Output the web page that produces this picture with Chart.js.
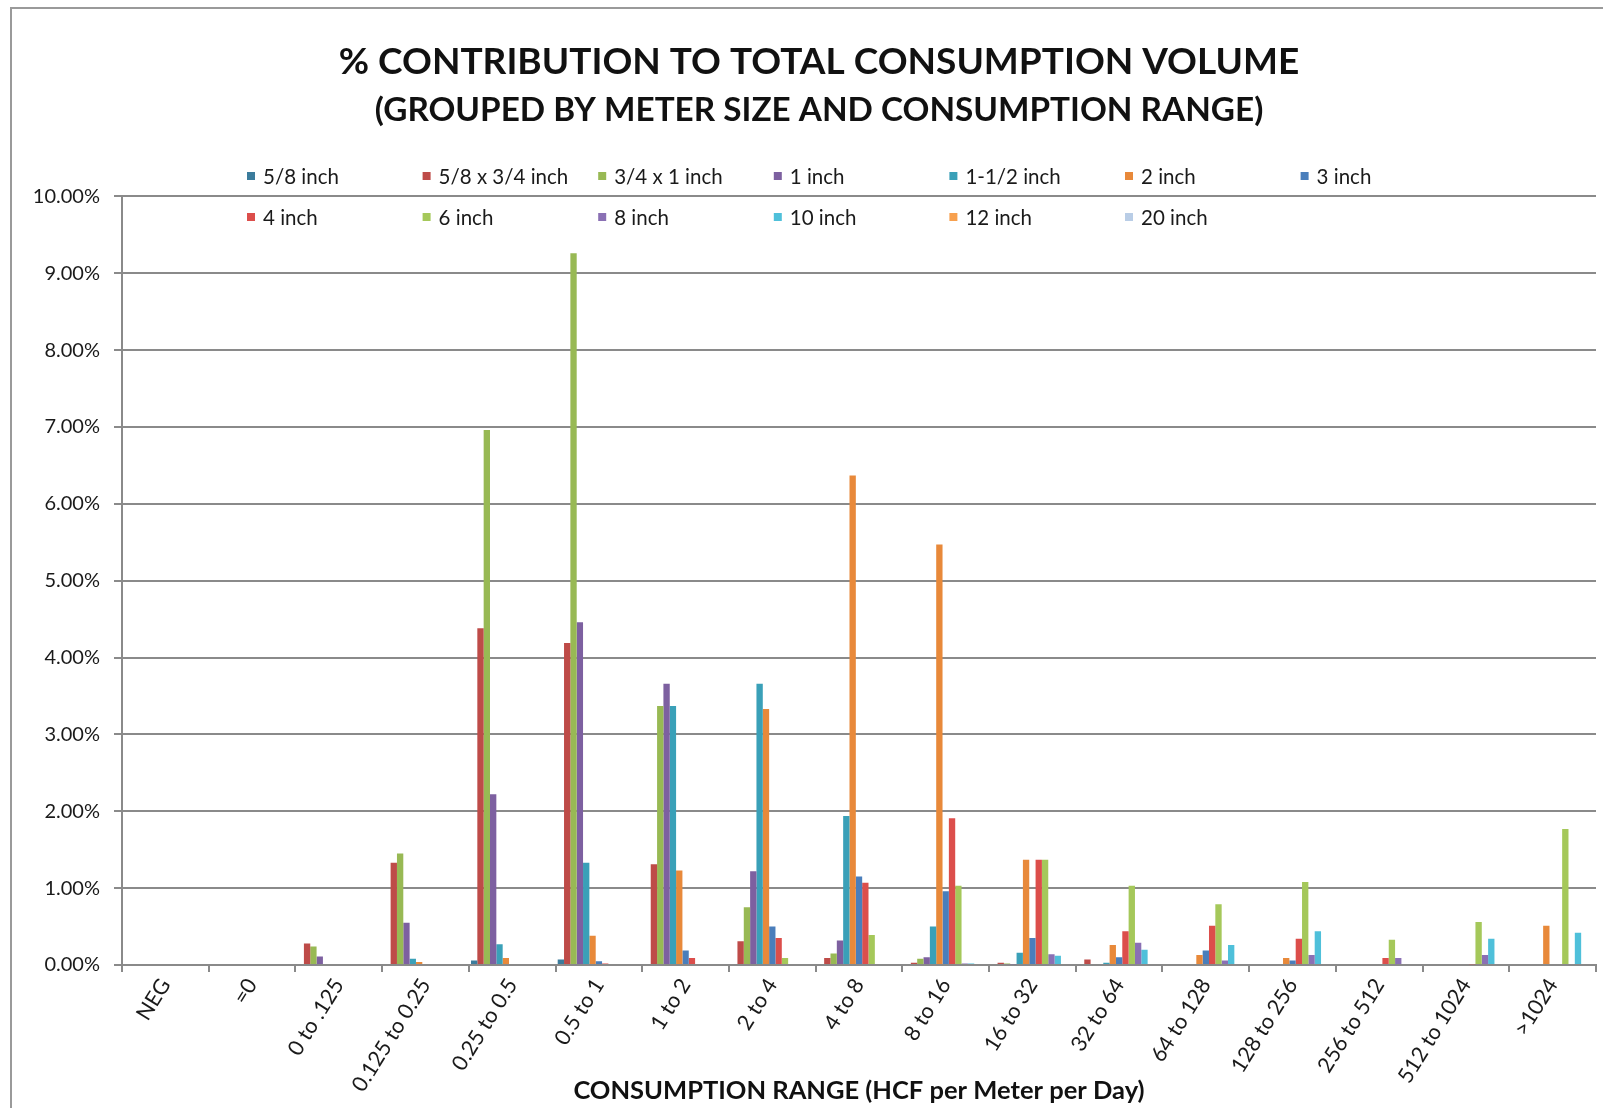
<!DOCTYPE html>
<html>
<head>
<meta charset="utf-8">
<title>% Contribution to Total Consumption Volume</title>
<script src="https://cdn.jsdelivr.net/npm/chart.js@4.4.1/dist/chart.umd.min.js"></script>
<style>
  html, body { margin: 0; padding: 0; background: #ffffff; }
  #wrap { position: relative; width: 1620px; height: 1108px; }
</style>
</head>
<body>
<div id="wrap"><canvas id="chart"></canvas></div>
<script>
// Consumption ranges (HCF per meter per day)
const categories = ["NEG", "=0", "0 to .125", "0.125 to 0.25", "0.25 to 0.5", "0.5 to 1",
  "1 to 2", "2 to 4", "4 to 8", "8 to 16", "16 to 32", "32 to 64", "64 to 128",
  "128 to 256", "256 to 512", "512 to 1024", ">1024"];

// Meter sizes (one series each)
const meterSizes = ["5/8 inch", "5/8 x 3/4 inch", "3/4 x 1 inch", "1 inch", "1-1/2 inch",
  "2 inch", "3 inch", "4 inch", "6 inch", "8 inch", "10 inch", "12 inch", "20 inch"];

// % of total consumption volume, per consumption range
const m5_8      = [0, 0, 0,    0,    0.06, 0.07, 0,    0,    0,    0,    0,    0,    0,    0,    0,    0,    0];
const m5_8x3_4  = [0, 0, 0.28, 1.33, 4.38, 4.19, 1.31, 0.31, 0.09, 0.03, 0.03, 0.07, 0,    0,    0,    0,    0];
const m3_4x1    = [0, 0, 0.24, 1.45, 6.96, 9.26, 3.37, 0.75, 0.15, 0.08, 0.02, 0,    0,    0,    0,    0,    0];
const m1        = [0, 0, 0.11, 0.55, 2.22, 4.46, 3.66, 1.22, 0.32, 0.10, 0.01, 0,    0,    0,    0,    0,    0];
const m1_1_2    = [0, 0, 0,    0.08, 0.27, 1.33, 3.37, 3.66, 1.94, 0.50, 0.16, 0.03, 0,    0,    0,    0,    0];
const m2        = [0, 0, 0,    0.04, 0.09, 0.38, 1.23, 3.33, 6.37, 5.47, 1.37, 0.26, 0.13, 0.09, 0,    0,    0.51];
const m3        = [0, 0, 0,    0,    0,    0.05, 0.19, 0.50, 1.15, 0.96, 0.35, 0.10, 0.19, 0.06, 0,    0,    0];
const m4        = [0, 0, 0,    0,    0,    0.02, 0.09, 0.35, 1.07, 1.91, 1.37, 0.44, 0.51, 0.34, 0.09, 0.01, 0];
const m6        = [0, 0, 0,    0,    0,    0,    0,    0.09, 0.39, 1.03, 1.37, 1.03, 0.79, 1.08, 0.33, 0.56, 1.77];
const m8        = [0, 0, 0,    0,    0,    0,    0,    0,    0,    0.02, 0.14, 0.29, 0.06, 0.13, 0.09, 0.13, 0];
const m10       = [0, 0, 0,    0,    0,    0,    0,    0,    0,    0.02, 0.12, 0.20, 0.26, 0.44, 0,    0.34, 0.42];
const m12       = [0, 0, 0,    0,    0,    0,    0,    0,    0,    0,    0,    0,    0,    0,    0,    0,    0];
const m20       = [0, 0, 0,    0,    0,    0,    0,    0,    0,    0,    0,    0,    0,    0,    0,    0,    0];

const seriesValues = [m5_8, m5_8x3_4, m3_4x1, m1, m1_1_2, m2, m3, m4, m6, m8, m10, m12, m20];

const seriesColors = ["#3b7c9c", "#be4b48", "#98b954", "#7d60a0", "#3aa0b8", "#e8893a",
  "#4a7ebb", "#dc4e4b", "#a5c85a", "#8a70b4", "#4fc0da", "#f7a04e", "#b9cde6"];

// Y-axis tick values (percent)
const yTicks = [0, 1, 2, 3, 4, 5, 6, 7, 8, 9, 10];

Chart.defaults.font.family = "Lato, 'DejaVu Sans', sans-serif";
Chart.defaults.color = "#1a1a1a";

// Grey outer frame around the whole figure
const frame = {
  id: "frame",
  beforeDraw(chart) {
    const ctx = chart.ctx;
    ctx.save();
    ctx.fillStyle = "#ffffff";
    ctx.fillRect(0, 0, chart.width, chart.height);
    ctx.strokeStyle = "#9a9a9a";
    ctx.lineWidth = 2;
    ctx.beginPath();
    ctx.moveTo(11, chart.height);
    ctx.lineTo(11, 8);
    ctx.lineTo(1603, 8);
    ctx.stroke();
    ctx.restore();
  }
};

// Two-row legend laid out in fixed columns
const gridLegend = {
  id: "gridLegend",
  afterDraw(chart) {
    const ctx = chart.ctx;
    ctx.save();
    ctx.font = "20.5px Lato, 'DejaVu Sans', sans-serif";
    ctx.textBaseline = "middle";
    ctx.textAlign = "left";
    chart.data.datasets.forEach((ds, i) => {
      const col = i % 7, row = Math.floor(i / 7);
      const x = 247 + col * 175.6;
      const y = 176 + row * 41;
      ctx.fillStyle = ds.backgroundColor;
      ctx.fillRect(x, y - 4, 8, 8);
      ctx.fillStyle = "#1a1a1a";
      ctx.fillText(ds.label, x + 16, y + 1);
    });
    ctx.restore();
  }
};

const datasets = meterSizes.map((name, i) => ({
  label: name,
  data: seriesValues[i],
  backgroundColor: seriesColors[i],
  borderWidth: 0,
  categoryPercentage: 0.95,
  barPercentage: 1.0
}));

new Chart(document.getElementById("chart"), {
  type: "bar",
  data: { labels: categories, datasets },
  plugins: [frame, gridLegend],
  options: {
    responsive: true,
    maintainAspectRatio: false,
    animation: false,
    layout: { padding: { left: 20, right: 2, top: 0, bottom: 0 } },
    plugins: {
      legend: { display: false },
      tooltip: { enabled: false },
      title: {
        display: true,
        text: "% CONTRIBUTION TO TOTAL CONSUMPTION VOLUME",
        color: "#111111",
        font: { size: 37, weight: "bold" },
        padding: { top: 40, bottom: 0 }
      },
      subtitle: {
        display: true,
        text: "(GROUPED BY METER SIZE AND CONSUMPTION RANGE)",
        color: "#111111",
        font: { size: 33.3, weight: "bold" },
        padding: { top: 6, bottom: 66 }
      }
    },
    scales: {
      x: {
        afterFit(scale) { scale.height = 143; },
        grid: {
          display: true,
          offset: true,
          drawOnChartArea: false,
          drawTicks: true,
          tickLength: 7,
          color: "#8a8a8a",
          lineWidth: 2
        },
        border: { display: true, color: "#8a8a8a", width: 2 },
        ticks: {
          autoSkip: false,
          minRotation: 58,
          maxRotation: 58,
          padding: 2,
          color: "#1a1a1a",
          font: { size: 21.5 }
        },
        title: {
          display: true,
          text: "CONSUMPTION RANGE (HCF per Meter per Day)",
          color: "#111111",
          font: { size: 25.5, weight: "bold" },
          padding: { top: 0, bottom: 2 }
        }
      },
      y: {
        min: 0,
        max: 10,
        afterFit(scale) { scale.width = 102; },
        afterBuildTicks(scale) { scale.ticks = yTicks.map(v => ({ value: v })); },
        grid: {
          color: "#8a8a8a",
          lineWidth: 2,
          drawTicks: true,
          tickLength: 8
        },
        border: { display: true, color: "#8a8a8a", width: 2 },
        ticks: {
          padding: 14,
          color: "#1a1a1a",
          font: { size: 20 },
          callback: v => v.toFixed(2) + "%"
        }
      },
      // empty right-hand spacer keeping the plot clear of the right edge
      spacer: {
        type: "linear",
        position: "right",
        display: true,
        afterFit(scale) { scale.width = 22; },
        grid: { display: false, drawTicks: false },
        border: { display: false },
        ticks: { display: false }
      }
    }
  }
});
</script>
</body>
</html>
